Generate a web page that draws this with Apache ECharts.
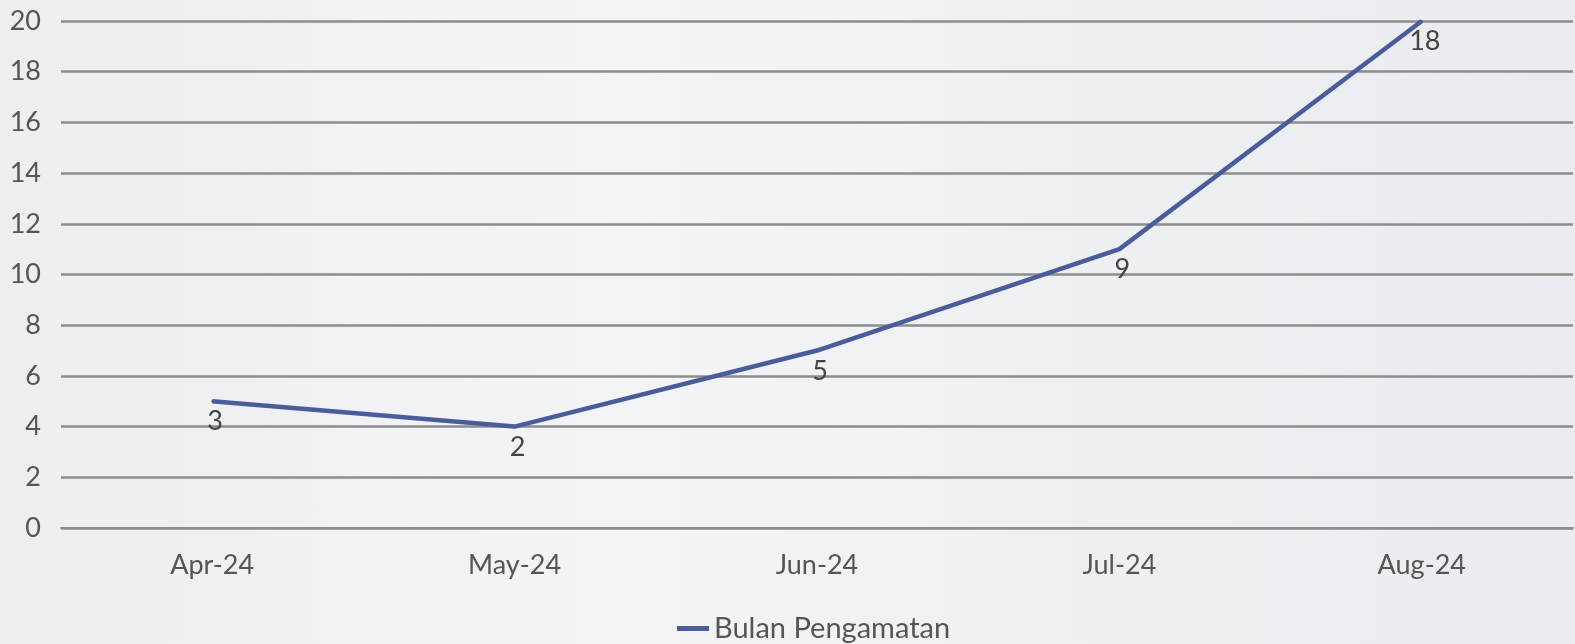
<!DOCTYPE html>
<html>
<head>
<meta charset="utf-8">
<script src="https://cdn.jsdelivr.net/npm/echarts@6/dist/echarts.min.js"></script>
<style>
    html, body { margin: 0; padding: 0; }
    #chart {
        width: 1575px;
        height: 644px;
        background: linear-gradient(90deg, #eceef2 0%, #f2f4f6 40%, #e9ecf0 100%);
    }
</style>
</head>
<body>
<div id="chart"></div>
<script>
// months on the x axis
let months = ['Apr-24', 'May-24', 'Jun-24', 'Jul-24', 'Aug-24']
// hidden base of the stacked line (the line sits 2 above its labels)
let baseValues = [2, 2, 2, 2, 2]
// values of "Bulan Pengamatan" (shown as data labels)
let observed = [3, 2, 5, 9, 18]

let font = 'Lato, "Open Sans", sans-serif'
let chart = echarts.init(document.getElementById('chart'))
chart.setOption({
    animation: false,
    textStyle: { fontFamily: font },
    grid: {
        left: 61,
        right: 2,
        top: 21,
        bottom: 116
    },
    legend: {
        top: 609,
        left: 672,
        data: ['Bulan Pengamatan'],
        icon: 'rect',
        itemWidth: 32,
        itemHeight: 5,
        itemGap: 6,
        textStyle: { fontSize: 29, color: '#555', fontFamily: font }
    },
    xAxis: {
        type: 'category',
        data: months,
        boundaryGap: true,
        axisLine: { lineStyle: { color: '#8c8c8c', width: 2 } },
        axisTick: { length: 7, lineStyle: { color: '#8c8c8c', width: 2 } },
        axisLabel: { fontSize: 27, color: '#555', margin: 24, fontFamily: font }
    },
    yAxis: {
        type: 'value',
        min: 0,
        max: 20,
        interval: 2,
        axisLine: { show: false },
        axisTick: { show: false },
        axisLabel: { fontSize: 27, color: '#555', margin: 20, fontFamily: font },
        splitLine: { lineStyle: { color: '#8c8c8c', width: 2.5 } }
    },
    series: [
        {
            name: 'base',
            type: 'line',
            stack: 'total',
            data: baseValues,
            symbol: 'none',
            lineStyle: { opacity: 0 },
            silent: true
        },
        {
            name: 'Bulan Pengamatan',
            type: 'line',
            stack: 'total',
            data: observed,
            symbol: 'circle',
            symbolSize: 2,
            showSymbol: true,
            color: '#4a5c9c',
            itemStyle: { color: '#4a5c9c' },
            lineStyle: { width: 4.5, color: '#4a5c9c' },
            label: {
                show: true,
                position: 'bottom',
                distance: 6,
                offset: [3, 0],
                fontSize: 27,
                color: '#444',
                fontFamily: font
            }
        }
    ]
})
</script>
</body>
</html>
